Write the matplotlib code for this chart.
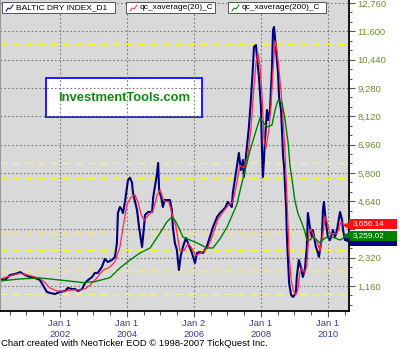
import matplotlib
matplotlib.use("Agg")
import matplotlib.pyplot as plt
import matplotlib.transforms as mtransforms
from matplotlib.patches import Rectangle
from matplotlib.lines import Line2D
from matplotlib.ticker import MultipleLocator

plt.rcParams['font.family'] = ['Liberation Sans', 'DejaVu Sans']

# Baltic Dry Index, decimal years
bdi_years = [2000.21, 2000.36, 2000.51, 2000.66, 2000.81, 2000.96, 2001.10, 2001.25, 2001.40, 2001.49,
             2001.61, 2001.70, 2001.85, 2002.00, 2002.15, 2002.24, 2002.36, 2002.45, 2002.54, 2002.66,
             2002.75, 2002.84, 2002.96, 2003.04, 2003.13, 2003.25, 2003.34, 2003.43, 2003.55, 2003.64,
             2003.70, 2003.73, 2003.79, 2003.85, 2003.88, 2003.94, 2004.03, 2004.09, 2004.15, 2004.18,
             2004.30, 2004.36, 2004.45, 2004.48, 2004.54, 2004.63, 2004.75, 2004.78, 2004.90, 2004.93,
             2004.96, 2005.04, 2005.07, 2005.13, 2005.28, 2005.34, 2005.37, 2005.43, 2005.49, 2005.55,
             2005.61, 2005.67, 2005.76, 2005.82, 2005.94, 2006.03, 2006.09, 2006.18, 2006.27, 2006.39,
             2006.57, 2006.69, 2006.78, 2006.93, 2007.01, 2007.13, 2007.16, 2007.22, 2007.28, 2007.34,
             2007.40, 2007.46, 2007.49, 2007.58, 2007.64, 2007.70, 2007.76, 2007.79, 2007.85, 2007.88,
             2007.94, 2008.00, 2008.03, 2008.06, 2008.12, 2008.18, 2008.21, 2008.27, 2008.33, 2008.36,
             2008.39, 2008.45, 2008.51, 2008.54, 2008.60, 2008.66, 2008.69, 2008.75, 2008.78, 2008.84,
             2008.90, 2008.96, 2009.04, 2009.07, 2009.13, 2009.19, 2009.25, 2009.31, 2009.37, 2009.40,
             2009.46, 2009.52, 2009.55, 2009.64, 2009.70, 2009.73, 2009.82, 2009.85, 2009.88, 2009.94,
             2010.00, 2010.06, 2010.15, 2010.21, 2010.27, 2010.36, 2010.42, 2010.45, 2010.51, 2010.57]
bdi_vals = [1450, 1410, 1610, 1650, 1730, 1610, 1530, 1490, 1410, 1200,
            915, 875, 830, 915, 955, 1080, 1035, 1035, 955, 1035,
            1285, 1405, 1530, 1695, 1695, 1940, 2265, 2145, 2225, 2350,
            2920, 4150, 4400, 4275, 4150, 4605, 5505, 5600, 5400, 4975,
            4275, 3580, 2760, 3170, 4070, 4195, 4195, 4770, 5795, 6205,
            5095, 4685, 4400, 4685, 4685, 4275, 3580, 2925, 2635, 1815,
            2430, 2760, 3130, 2925, 2515, 2105, 2515, 2550, 2515, 2800,
            3580, 3990, 4155, 4360, 4605, 4400, 4975, 5505, 6040, 6615,
            5915, 6325, 5630, 6860, 7680, 8785, 10140, 10960, 11040, 10550,
            9730, 8500, 6735, 5630, 7145, 8375, 7965, 8375, 10140, 11655,
            11780, 10835, 9895, 8910, 8375, 6500, 6040, 4400, 3000, 1285,
            790, 710, 875, 1530, 2225, 1940, 1530, 1815, 2760, 4155,
            3580, 3170, 3455, 2760, 2515, 2350, 3170, 4275, 4605, 3745,
            3170, 3045, 3455, 3170, 3455, 4195, 3865, 3455, 3045, 3100]

# qc_xaverage(20)
ma20_years = [2000.21, 2000.51, 2000.81, 2001.10, 2001.40, 2001.55, 2001.70, 2001.91, 2002.15, 2002.36,
              2002.60, 2002.75, 2002.90, 2003.10, 2003.28, 2003.49, 2003.64, 2003.79, 2003.91, 2004.00,
              2004.12, 2004.24, 2004.33, 2004.42, 2004.51, 2004.63, 2004.78, 2004.90, 2004.99, 2005.10,
              2005.25, 2005.37, 2005.46, 2005.58, 2005.70, 2005.82, 2005.94, 2006.06, 2006.18, 2006.30,
              2006.42, 2006.57, 2006.72, 2006.87, 2007.01, 2007.16, 2007.28, 2007.37, 2007.49, 2007.61,
              2007.70, 2007.79, 2007.85, 2007.91, 2007.97, 2008.03, 2008.09, 2008.15, 2008.24, 2008.30,
              2008.36, 2008.42, 2008.48, 2008.54, 2008.60, 2008.66, 2008.72, 2008.78, 2008.84, 2008.90,
              2008.96, 2009.04, 2009.10, 2009.16, 2009.22, 2009.31, 2009.37, 2009.43, 2009.49, 2009.58,
              2009.67, 2009.76, 2009.85, 2009.91, 2009.97, 2010.06, 2010.15, 2010.27, 2010.39, 2010.48,
              2010.57]
ma20_vals = [1450, 1570, 1680, 1590, 1470, 1300, 1080, 955, 950, 1000,
             1000, 1040, 1200, 1490, 1800, 1940, 2150, 2760, 3800, 4500,
             4800, 4900, 4600, 4100, 3850, 4050, 4250, 4900, 5100, 4650,
             4600, 4000, 3600, 2600, 2600, 2900, 2700, 2400, 2500, 2600,
             2750, 3300, 3900, 4200, 4450, 4600, 5400, 6100, 6000, 6500,
             7600, 9300, 10300, 10700, 10200, 9000, 7200, 6800, 7600, 8600,
             10000, 11200, 10800, 10000, 9100, 8000, 6600, 4600, 2500, 1400,
             1000, 800, 1000, 1700, 1900, 1700, 2000, 3300, 3500, 3200,
             3000, 2600, 3300, 4000, 3800, 3300, 3300, 3300, 3800, 3700,
             3656.14]

# qc_xaverage(200)
ma200_years = [2000.21, 2000.81, 2001.40, 2002.00, 2002.69, 2003.04, 2003.49, 2003.79, 2004.09, 2004.39,
               2004.69, 2004.99, 2005.19, 2005.34, 2005.43, 2005.58, 2005.67, 2005.88, 2006.09, 2006.39,
               2006.57, 2006.78, 2006.99, 2007.28, 2007.46, 2007.67, 2007.88, 2007.97, 2008.06, 2008.18,
               2008.33, 2008.42, 2008.51, 2008.63, 2008.72, 2008.81, 2008.87, 2008.93, 2009.01, 2009.10,
               2009.22, 2009.31, 2009.37, 2009.46, 2009.55, 2009.67, 2009.76, 2009.91, 2010.06, 2010.21,
               2010.36, 2010.51, 2010.57]
ma200_vals = [1365, 1450, 1490, 1405, 1300, 1340, 1500, 1900, 2225, 2515,
              2720, 3335, 3785, 3990, 3865, 3455, 3170, 3045, 2925, 2720,
              2720, 3100, 3580, 4500, 5550, 6700, 7650, 8050, 7885, 7680,
              7760, 8375, 8785, 8665, 7965, 7025, 6040, 5505, 4685, 4155,
              3745, 3375, 3050, 3045, 3170, 3045, 2925, 3130, 3170, 3130,
              3045, 3170, 3259.02]

y_ticks = [1160, 2320, 3480, 4640, 5800, 6960, 8120, 9280, 10440, 11600, 12760]
x_ticks = [2002, 2004, 2006, 2008, 2010]
x_labels = ["Jan 1\n2002", "Jan 1\n2004", "Jan 2\n2006", "Jan 1\n2008", "Jan 1\n2010"]
fib_levels = [11080, 5590, 3330, 2635, 1775]
fib_dotted = [6200, 830]

W, H = 400, 349
fig = plt.figure(figsize=(W / 100, H / 100), dpi=100, facecolor='white')
ax = fig.add_axes([0, 38 / H, 349 / W, 311 / H])
ax.set_facecolor('#d9d9d9')

for lv in fib_levels:
    ax.axhline(lv, color='#ffff00', lw=1.0, ls=(0, (5, 4)), zorder=1.6)
for lv in fib_dotted:
    ax.axhline(lv, color='#f4f48a', lw=1.0, ls=(0, (5, 4)), zorder=1.6)

ax.plot(bdi_years, bdi_vals, color='#000080', lw=1.5, zorder=2)
ax.plot(ma20_years, ma20_vals, color='#ff2a4a', lw=0.9, zorder=2.1)
ax.plot(ma200_years, ma200_vals, color='#008000', lw=1.0, zorder=2.2)

ax.set_xlim(2000.21, 2000.21 + 349 / 33.5)
ax.set_ylim(135, 12885)

ax.set_axisbelow('line')
ax.grid(True, which='major', color='#7a7a7a', ls=(0, (1.5, 2)), lw=0.8)

# the 3,480 label is covered by the last-value boxes in the original
ax.yaxis.tick_right()
ax.set_yticks(y_ticks)
ax.set_yticklabels(["" if v == 3480 else "{:,}".format(v) for v in y_ticks])
ax.yaxis.set_minor_locator(MultipleLocator(1160 / 3))
ax.tick_params(axis='y', which='major', length=4, width=0.8, pad=2,
               labelsize=6.8, labelcolor='#6f8f2f', color='#555555')
ax.tick_params(axis='y', which='minor', length=2, width=0.8, color='#555555')

ax.set_xticks(x_ticks)
ax.set_xticklabels(x_labels)
ax.xaxis.set_minor_locator(MultipleLocator(0.5))
ax.tick_params(axis='x', which='major', length=4, width=0.8, pad=2,
               labelsize=6.8, labelcolor='#3c3c96', color='#555555')
ax.tick_params(axis='x', which='minor', length=3, width=0.8, color='#555555')

ax.spines['top'].set_visible(False)
ax.spines['left'].set_color('#999999')
ax.spines['right'].set_linewidth(1.3)
ax.spines['bottom'].set_linewidth(1.3)

# watermark box (under the grid)
ax.add_patch(Rectangle((46 / W, 1 - 117 / H), 156 / W, 39 / H, transform=fig.transFigure,
                       facecolor='white', edgecolor='#1a1aff', lw=1.4, zorder=1))
ax.text(124 / W, 1 - 98 / H, "InvestmentTools.com", transform=fig.transFigure,
        ha='center', va='center', fontsize=9.4, fontweight='bold', color='#0c8a0c', zorder=1.2)

# series labels at the top
def series_box(x0, x1, text, color):
    fig.add_artist(Rectangle((x0 / W, 1 - 13 / H), (x1 - x0) / W, 11 / H, transform=fig.transFigure,
                             facecolor='white', edgecolor='#555555', lw=0.7))
    xs = [x0 + 4, x0 + 6, x0 + 8, x0 + 11]
    ys = [11, 8, 9, 5]
    fig.add_artist(Line2D([v / W for v in xs], [1 - v / H for v in ys], transform=fig.transFigure,
                          color=color, lw=0.7))
    fig.text((x0 + 14) / W, 1 - 7.5 / H, text, fontsize=6.0, va='center', color='black')

series_box(2, 115, "BALTIC DRY INDEX_D1", '#000080')
series_box(126, 215, "qc_xaverage(20)_C", '#ff2a4a')
series_box(228, 326, "qc_xaverage(200)_C", '#008000')

# last value labels on the right (blue one sits under the green one)
trans = mtransforms.blended_transform_factory(ax.transAxes, ax.transData)
bw = 48 / 349
bh = 10 * 41
ax.add_patch(Rectangle((1.0, ma200_vals[-1] - 260 - bh / 2), bw, bh, transform=trans,
                       facecolor='#000080', edgecolor='none', clip_on=False, zorder=5))
ax.plot([0.992], [bdi_vals[-1]], marker='<', color='#000080', ms=3.5, transform=trans,
        clip_on=False, zorder=6)
for val, col, shift in [(ma200_vals[-1], '#008000', -50), (ma20_vals[-1], '#ff1010', 50)]:
    ax.add_patch(Rectangle((1.0, val + shift - bh / 2), bw, bh, transform=trans, facecolor=col,
                           edgecolor='none', clip_on=False, zorder=5))
    ax.text(1.0 + 4 / 349, val + shift, "{:,.2f}".format(val), transform=trans, color='white',
            fontsize=5.9, va='center', ha='left', clip_on=False, zorder=6)
    ax.plot([0.992], [val], marker='<', color=col, ms=3.5, transform=trans, clip_on=False, zorder=6)

fig.text(1 / W, 1 - 343 / H, "Chart created with NeoTicker EOD \u00a9 1998-2007 TickQuest Inc.",
         fontsize=6.8, va='center', ha='left', color='black')

fig.savefig('out.png', dpi=100, facecolor='white')
